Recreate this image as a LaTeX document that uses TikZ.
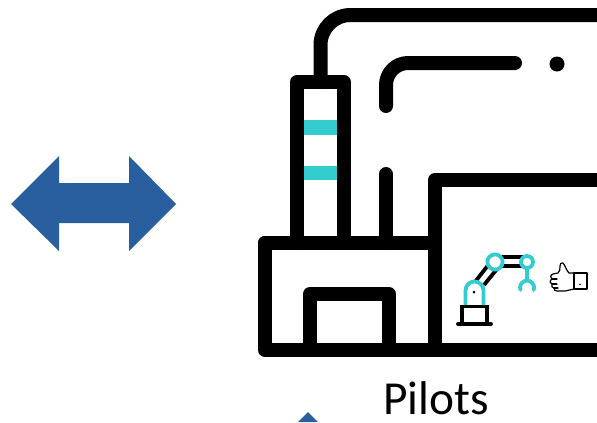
\documentclass[tikz,border=0pt]{standalone}
\usepackage{fontspec}
\setmainfont{Carlito}
\definecolor{teal1}{HTML}{33CCCF}
\definecolor{blue1}{HTML}{2A5F9F}
\tikzset{
  heavy/.style={draw=black,line width=14*0.75pt,line join=round,line cap=round},
  thin teal/.style={draw=teal1,line width=3.8*0.75pt},
  thin black/.style={draw=black,line width=3.8*0.75pt},
  hair/.style={draw=black,line width=1.2*0.75pt,line join=round,line cap=round},
}
\begin{document}
\begin{tikzpicture}[x=0.75pt,y=-0.75pt]
\useasboundingbox (0,0) rectangle (597,422);
% blue arrows
\fill[blue1] (11,204) -- (59,156) -- (59,183) -- (129,183) -- (129,156) -- (176,204) -- (129,251) -- (129,223) -- (59,223) -- (59,251) -- cycle;
\fill[blue1] (308,412) -- (318,422) -- (298,422) -- cycle;
% teal bars
\fill[teal1] (304,120) rectangle (338,135);
\fill[teal1] (304,166) rectangle (338,180);
% factory
\draw[heavy] (297,243) -- (297,82) -- (344,82) -- (344,243);
\draw[heavy] (265,243) -- (265,350) -- (597,350);
\draw[heavy] (265,243) -- (435,243);
\draw[heavy] (310,350) -- (310,294) -- (389,294) -- (389,350);
\draw[heavy] (435,350) -- (435,180) -- (604,180);
\draw[heavy,rounded corners=30*0.75pt] (320.5,82) -- (320.5,15) -- (610,15);
\draw[heavy,rounded corners=22*0.75pt] (386,106) -- (386,63) -- (515,63);
\draw[heavy] (386,174) -- (386,243);
\fill (557,64) circle (7.5);
% robot
\draw[thin black] (462,324) -- (462,306.5) -- (487,306.5) -- (487,324);
\draw[thin black,line cap=round] (458,324) -- (491,324);
\draw[thin black] (475,282) -- (489,264);
\draw[thin black] (484,285) -- (497,269);
\draw[thin black] (500,257) -- (524,257);
\draw[thin black] (502,266) -- (524,266);
\draw[thin teal] (465.5,305) -- (465.5,290.5) arc[start angle=180,end angle=360,radius=9] -- (483.5,305);
\fill (474,292) circle (1.5);
\draw[thin teal] (495,262) circle (7.6);
\draw[thin teal] (527,262) circle (6);
\draw[thin teal] (527,268) -- (527,281);
\draw[thin teal,line cap=round] (520.5,290) arc[start angle=160,end angle=380,radius=7] ;
% thumb
\draw[hair] (574,273) rectangle (587,289);
\fill (580,284.5) circle (0.8);
\draw[hair] (574,273) -- (569,273) .. controls (566,270) and (565,265) .. (563,263) .. controls (561,262) and (560,264) .. (560,266) .. controls (560,269) and (560,272) .. (558,273) -- (553,274) .. controls (550,275) and (550,278) .. (552,279) .. controls (549,281) and (550,284) .. (552,284) .. controls (551,286) and (552,288) .. (554,288) .. controls (554,290) and (555,291) .. (557,291) -- (565,291) -- (574,289);
\draw[hair] (552,279) -- (557,279) (552,284) -- (557,284) (554,288) -- (558,288);
\node[font=\fontsize{35.5pt}{36pt}\selectfont,anchor=base,inner sep=0pt] (pilots) at (436,414) {Pilots};
\end{tikzpicture}
\end{document}
